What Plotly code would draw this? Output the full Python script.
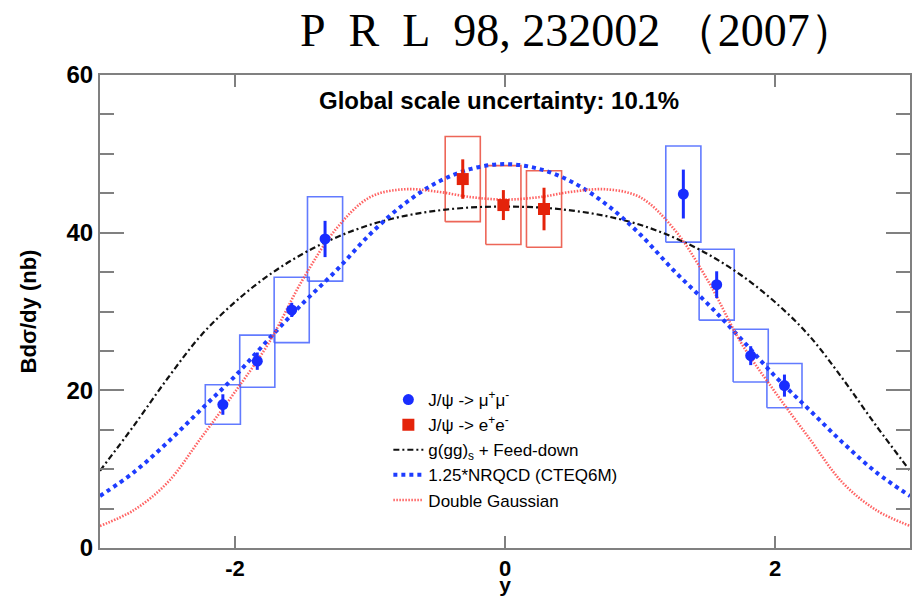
import plotly.graph_objects as go

# Rapidity grid for the model curves
y_grid = [-3.0, -2.75, -2.5, -2.25, -2.0, -1.75, -1.5, -1.25, -1.0, -0.75, -0.5, -0.25, 0.0,
          0.25, 0.5, 0.75, 1.0, 1.25, 1.5, 1.75, 2.0, 2.25, 2.5, 2.75, 3.0]

# g(gg)_s + feed-down prediction
gg_feed = [9.8, 15.5, 21.5, 27.0, 31.2, 34.6, 37.3, 39.4, 41.0, 42.1, 42.8, 43.2, 43.3,
           43.2, 42.8, 42.1, 41.0, 39.4, 37.3, 34.6, 31.2, 27.0, 21.5, 15.5, 9.8]
# 1.25 * NRQCD (CTEQ6M)
nrqcd = [6.6, 9.6, 13.4, 17.6, 21.8, 26.5, 31.0, 35.2, 39.8, 43.6, 46.4, 48.1, 48.7,
         48.1, 46.4, 43.6, 39.8, 35.2, 31.0, 26.5, 21.8, 17.6, 13.4, 9.6, 6.6]
# Double Gaussian fit
dbl_gauss = [2.8, 4.8, 8.3, 14.0, 19.8, 26.0, 34.0, 40.5, 44.5, 45.5, 45.2, 44.5, 44.2,
             44.5, 45.2, 45.5, 44.5, 40.5, 34.0, 26.0, 19.8, 14.0, 8.3, 4.8, 2.8]

# J/psi -> mu+ mu- (forward / backward arms)
mu_y = [-2.09, -1.835, -1.58, -1.333, 1.321, 1.568, 1.82, 2.07]
mu_val = [18.2, 23.7, 30.2, 39.2, 44.9, 33.4, 24.4, 20.6]
mu_stat = [1.3, 1.1, 0.9, 2.3, 3.1, 1.7, 1.2, 1.4]
mu_syst = [2.5, 3.3, 4.15, 5.35, 6.1, 4.5, 3.35, 2.8]

# J/psi -> e+ e- (central arm)
ee_y = [-0.313, -0.012, 0.289]
ee_val = [46.8, 43.5, 43.0]
ee_stat = [2.5, 1.9, 2.7]
ee_syst = [5.4, 5.0, 4.85]

# axis ticks
x_tick_vals = [-2, 0, 2]
x_tick_text = ["-2", "0", "2"]
y_tick_vals = [0, 20, 40, 60]
y_tick_text = ["0", "20", "40", "60"]

BOX_HALF = 0.13  # half width of the systematic-error boxes (rapidity units)

FONT = "Liberation Sans, Arial, Helvetica, sans-serif"
BLUE = "rgb(25,45,255)"
RED = "rgb(228,35,10)"


def box_path(xs, vals, systs, half):
    px, py = [], []
    for xc, v, s in zip(xs, vals, systs):
        px += [xc - half, xc + half, xc + half, xc - half, xc - half, None]
        py += [v - s, v - s, v + s, v + s, v - s, None]
    return px, py


fig = go.Figure()

# systematic boxes
bx, by = box_path(mu_y, mu_val, mu_syst, BOX_HALF)
fig.add_trace(go.Scatter(x=bx, y=by, mode="lines", showlegend=False, hoverinfo="skip",
                         line=dict(color="rgba(70,100,255,0.85)", width=1.6)))
bx, by = box_path(ee_y, ee_val, ee_syst, BOX_HALF)
fig.add_trace(go.Scatter(x=bx, y=by, mode="lines", showlegend=False, hoverinfo="skip",
                         line=dict(color="rgba(235,85,70,0.9)", width=1.6)))

# model curves
fig.add_trace(go.Scatter(x=y_grid, y=gg_feed, mode="lines", line_shape="spline",
                         name="g(gg)<sub>s</sub> + Feed-down", legendrank=3,
                         line=dict(color="#111111", width=2.2, dash="6px,3px,2px,3px")))
fig.add_trace(go.Scatter(x=y_grid, y=nrqcd, mode="lines", line_shape="spline",
                         name="1.25*NRQCD (CTEQ6M)", legendrank=4,
                         line=dict(color="rgb(30,60,255)", width=4, dash="4px,4px")))
fig.add_trace(go.Scatter(x=y_grid, y=dbl_gauss, mode="lines", line_shape="spline",
                         name="Double Gaussian", legendrank=5,
                         line=dict(color="rgba(255,70,70,0.85)", width=2.6, dash="1.5px,1.5px")))

# data points with statistical errors
fig.add_trace(go.Scatter(x=mu_y, y=mu_val, mode="markers", name="J/\u03c8 -> \u03bc<sup>+</sup>\u03bc<sup>-</sup>",
                         legendrank=1,
                         marker=dict(symbol="circle", size=11, color=BLUE),
                         error_y=dict(type="data", array=mu_stat, color=BLUE, thickness=3, width=0)))
fig.add_trace(go.Scatter(x=ee_y, y=ee_val, mode="markers", name="J/\u03c8 -> e<sup>+</sup>e<sup>-</sup>",
                         legendrank=2,
                         marker=dict(symbol="square", size=12, color=RED),
                         error_y=dict(type="data", array=ee_stat, color=RED, thickness=3, width=0)))

axis_common = dict(showline=True, linecolor="#808080", linewidth=2, mirror="allticks",
                   ticks="inside", tickcolor="#808080", tickwidth=2, showgrid=False,
                   zeroline=False, automargin=False)

fig.update_xaxes(range=[-3, 3], tickvals=x_tick_vals, ticktext=x_tick_text, ticklen=12,
                 tickfont=dict(family=FONT, size=22, color="black", weight="bold"),
                 title=dict(text="y", font=dict(family=FONT, size=21, color="black", weight="bold"),
                            standoff=1),
                 **axis_common)
fig.update_yaxes(range=[0, 60], tickvals=y_tick_vals, ticktext=y_tick_text, ticklen=24,
                 tickfont=dict(family=FONT, size=24, color="black", weight="bold"),
                 minor=dict(dtick=5, ticklen=14, ticks="inside", tickcolor="#808080", tickwidth=2),
                 title=dict(text="Bd\u03c3/dy (nb)", font=dict(family=FONT, size=22, color="black", weight="bold"),
                            standoff=24),
                 **axis_common)

fig.add_annotation(text="Global scale uncertainty: 10.1%", xref="paper", yref="paper",
                   x=0.4926, y=0.978, showarrow=False,
                   font=dict(family=FONT, size=24, color="black", weight="bold"))
fig.add_annotation(text="P\u2002R\u2002L\u200298, 232002 \uff082007\uff09",
                   xref="paper", yref="paper", x=0.244, y=1.152, xanchor="left", showarrow=False,
                   font=dict(family="Liberation Serif, Times New Roman, serif", size=46, color="black"))

fig.update_layout(
    width=915, height=596,
    margin=dict(l=100, r=5, t=75, b=48),
    plot_bgcolor="white", paper_bgcolor="white",
    showlegend=True,
    legend=dict(x=0.356, y=0.351, xanchor="left", yanchor="top", bgcolor="rgba(0,0,0,0)",
                font=dict(family=FONT, size=17, color="black"), itemwidth=30,
                tracegroupgap=0),
)

fig.write_html("out.html")
